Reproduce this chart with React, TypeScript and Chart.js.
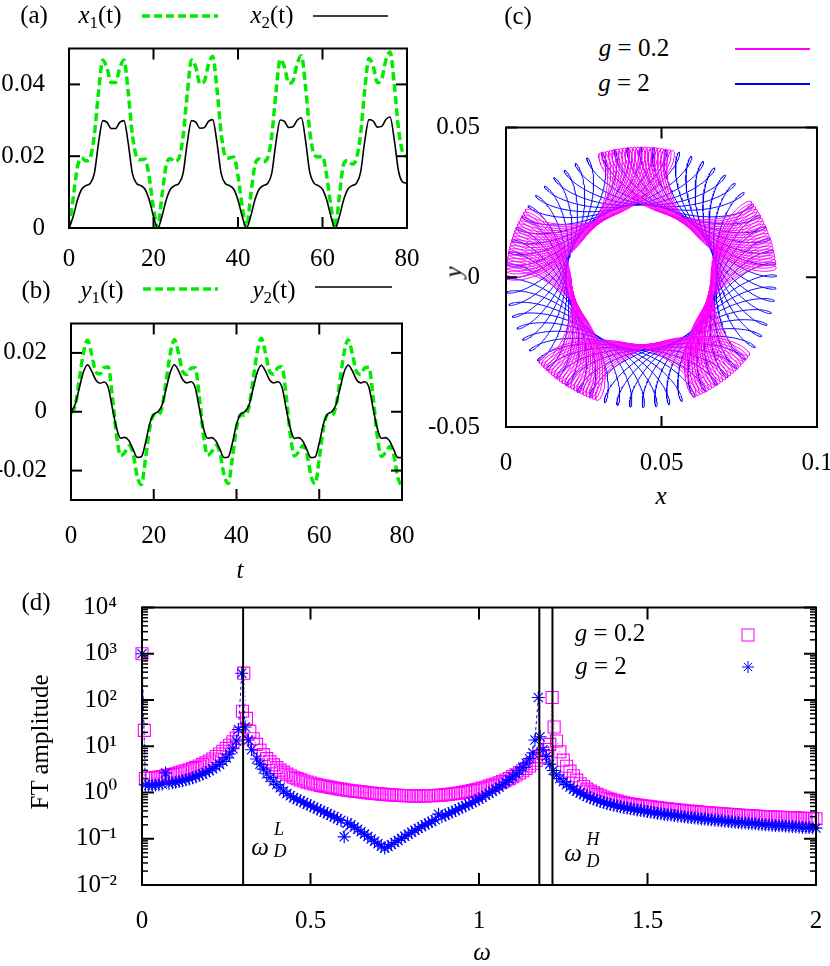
import React, { useEffect, useRef } from 'react';
import { Chart, registerables } from 'chart.js';

Chart.register(...registerables);

const SERIF = '"Liberation Serif", Tinos, "Times New Roman", Times, "Nimbus Roman", FreeSerif, "DejaVu Serif", serif';

// ---------------- Panels (a) and (b): time series ----------------
const timeSamples = [0, 1, 2, 3, 4, 5, 6, 7, 8, 9, 10, 11, 12, 13, 14, 15, 16, 17, 18, 19, 20,
  21, 22, 23, 24, 25, 26, 27, 28, 29, 30, 31, 32, 33, 34, 35, 36, 37, 38, 39, 40, 41,
  42, 43, 44, 45, 46, 47, 48, 49, 50, 51, 52, 53, 54, 55, 56, 57, 58, 59, 60, 61, 62,
  63, 64, 65, 66, 67, 68, 69, 70, 71, 72, 73, 74, 75, 76, 77, 78, 79, 80];

const x1Series = [
  0, 0.0085, 0.017, 0.0195, 0.0187, 0.0195, 0.026, 0.038, 0.0468, 0.0445, 0.0405, 0.0405, 0.0445, 0.0468, 0.038, 0.026, 0.0198, 0.019, 0.0192, 0.014, 0.0055,
  0, 0.009, 0.0175, 0.0193, 0.0185, 0.0194, 0.0255, 0.0375, 0.0468, 0.0448, 0.0402, 0.0408, 0.0455, 0.0478, 0.039, 0.0265, 0.02, 0.0195, 0.0198, 0.0145, 0.006,
  0, 0.009, 0.0175, 0.0192, 0.0185, 0.0195, 0.0258, 0.038, 0.047, 0.0448, 0.0403, 0.041, 0.0458, 0.048, 0.0392, 0.0268, 0.0205, 0.0198, 0.02, 0.0145, 0.006,
  0, 0.009, 0.0178, 0.0188, 0.0178, 0.0192, 0.026, 0.0385, 0.0472, 0.045, 0.0405, 0.0415, 0.0468, 0.049, 0.04, 0.0275, 0.021, 0.0198];

const x2Series = [
  0, 0.0032, 0.0078, 0.0108, 0.0118, 0.0124, 0.0152, 0.0238, 0.0299, 0.0294, 0.0277, 0.0277, 0.0294, 0.0299, 0.0238, 0.0152, 0.0124, 0.0118, 0.0108, 0.0078, 0.0032,
  0, 0.0032, 0.0078, 0.0108, 0.0118, 0.0124, 0.0152, 0.0238, 0.0299, 0.0295, 0.0278, 0.0279, 0.0297, 0.0302, 0.024, 0.0153, 0.0124, 0.0118, 0.0108, 0.0078, 0.0032,
  0, 0.0032, 0.0078, 0.0108, 0.0118, 0.0124, 0.0153, 0.024, 0.0301, 0.0297, 0.028, 0.0282, 0.03, 0.0307, 0.0243, 0.0154, 0.0125, 0.0118, 0.0108, 0.0078, 0.0032,
  0, 0.0032, 0.0078, 0.0108, 0.0118, 0.0124, 0.0154, 0.0242, 0.0302, 0.0298, 0.0281, 0.0283, 0.0302, 0.0309, 0.0245, 0.0158, 0.0128, 0.0125];

const y1Series = [
  -0.0005, 0.002, 0.011, 0.02, 0.0243, 0.0195, 0.0135, 0.0128, 0.015, 0.0152, 0.005, -0.008, -0.015, -0.0138, -0.0116, -0.0142, -0.022, -0.0248, -0.016, -0.0058, -0.001,
  -0.0012, 0.0015, 0.0105, 0.0198, 0.0245, 0.0198, 0.0137, 0.0127, 0.0148, 0.015, 0.0052, -0.0078, -0.0148, -0.0136, -0.0115, -0.014, -0.0215, -0.0244, -0.0158, -0.0056, -0.001,
  -0.0012, 0.0016, 0.0108, 0.0202, 0.025, 0.02, 0.0138, 0.0128, 0.015, 0.0153, 0.0055, -0.0078, -0.015, -0.0137, -0.0116, -0.0142, -0.0218, -0.0245, -0.016, -0.0057, -0.001,
  -0.0012, 0.0016, 0.0106, 0.02, 0.0245, 0.0197, 0.0136, 0.0127, 0.0149, 0.0151, 0.0052, -0.008, -0.0152, -0.0139, -0.0118, -0.0146, -0.0225, -0.0255];

const y2Series = [
  0, 0.0025, 0.008, 0.0135, 0.016, 0.0138, 0.0108, 0.0097, 0.0101, 0.0082, 0.0012, -0.0055, -0.009, -0.0087, -0.0098, -0.0128, -0.0155, -0.0153, -0.0106, -0.0042, -0.0008,
  0, 0.0022, 0.0078, 0.0134, 0.016, 0.0139, 0.0109, 0.0098, 0.0102, 0.0083, 0.0013, -0.0055, -0.009, -0.0088, -0.0099, -0.0128, -0.0156, -0.0154, -0.0107, -0.0043, -0.0008,
  0, 0.0022, 0.0078, 0.0133, 0.0158, 0.0138, 0.0108, 0.0098, 0.0102, 0.0083, 0.0012, -0.0056, -0.0091, -0.0088, -0.0099, -0.0129, -0.0156, -0.0154, -0.0106, -0.0042, -0.0008,
  0, 0.0022, 0.0078, 0.0134, 0.0159, 0.0139, 0.0109, 0.0098, 0.0102, 0.0083, 0.0013, -0.0055, -0.009, -0.0088, -0.0099, -0.0129, -0.0156, -0.0155];

const timeTicks = [0, 20, 40, 60, 80];
const timeTickLabels = ['0', '20', '40', '60', '80'];
const xPosTicks = [0, 0.02, 0.04];
const xPosTickLabels = ['0', '0.02', '0.04'];
const yPosTicks = [-0.02, 0, 0.02];
const yPosTickLabels = ['-0.02', '0', '0.02'];

// ---------------- Panel (c): orbit in the (x, y) plane ----------------
// Rebuilt from values: ring centre, slow / fast circle radii
// (outer edge ~0.0435, hole edge ~0.023), and the two drive frequencies (panel d).
// index 0: g = 0.2 (magenta), index 1: g = 2 (blue)
const orbitCentre = [0.0435, 0];
const orbitSlowRadius = [0.033, 0.0338];
const orbitFastRadius = [0.0105, 0.0097];
const orbitSlowFreq = [0.302, 0.296];
const orbitFastFreq = [1.2018, 1.1616];
const orbitDuration = [450, 276];
const orbitStep = 0.04;
const orbitXTicks = [0, 0.05, 0.1];
const orbitXTickLabels = ['0', '0.05', '0.1'];
const orbitYTicks = [-0.05, 0, 0.05];
const orbitYTickLabels = ['-0.05', '0', '0.05'];

// ---------------- Panel (d): FT amplitude ----------------
const spectrumWeak: [number, number][] = [
  [0, 1000], [0.007, 22], [0.01, 2.0], [0.02, 2.05], [0.03, 2.08], [0.04, 2.1], [0.05, 2.15], [0.06, 2.2], [0.07, 2.28], [0.08, 2.35], [0.09, 2.45],
  [0.10, 2.55], [0.11, 2.65], [0.12, 2.8], [0.13, 2.95], [0.14, 3.1], [0.15, 3.3], [0.16, 3.5], [0.17, 3.75], [0.18, 4.05], [0.19, 4.4],
  [0.20, 4.8], [0.21, 5.3], [0.22, 6.0], [0.23, 6.8], [0.24, 7.8], [0.25, 9.0], [0.26, 10.5], [0.27, 12.5], [0.28, 15], [0.29, 19],
  [0.298, 57], [0.302, 380], [0.31, 40], [0.32, 21], [0.33, 14.5], [0.34, 11], [0.35, 8.2], [0.36, 6.6], [0.37, 5.4], [0.38, 4.6], [0.39, 3.95],
  [0.40, 3.45], [0.41, 3.05], [0.42, 2.75], [0.43, 2.5], [0.44, 2.3], [0.45, 2.13], [0.46, 1.99], [0.47, 1.87], [0.48, 1.77], [0.49, 1.68],
  [0.50, 1.6], [0.51, 1.53], [0.52, 1.47], [0.53, 1.42], [0.54, 1.37], [0.55, 1.33], [0.56, 1.29], [0.57, 1.25], [0.58, 1.21], [0.59, 1.18],
  [0.60, 1.15], [0.61, 1.12], [0.62, 1.09], [0.63, 1.07], [0.64, 1.05], [0.65, 1.03], [0.66, 1.01], [0.67, 0.99], [0.68, 0.97], [0.69, 0.95],
  [0.70, 0.94], [0.71, 0.92], [0.72, 0.91], [0.73, 0.9], [0.74, 0.89], [0.75, 0.88], [0.76, 0.87], [0.77, 0.86], [0.78, 0.85], [0.79, 0.85],
  [0.80, 0.84], [0.81, 0.84], [0.82, 0.84], [0.83, 0.84], [0.84, 0.84], [0.85, 0.85], [0.86, 0.85], [0.87, 0.86], [0.88, 0.87], [0.89, 0.88],
  [0.90, 0.9], [0.91, 0.91], [0.92, 0.93], [0.93, 0.95], [0.94, 0.97], [0.95, 1.0], [0.96, 1.03], [0.97, 1.06], [0.98, 1.1], [0.99, 1.14],
  [1.00, 1.19], [1.01, 1.24], [1.02, 1.3], [1.03, 1.37], [1.04, 1.44], [1.05, 1.52], [1.06, 1.62], [1.07, 1.73], [1.08, 1.86], [1.09, 2.0],
  [1.10, 2.2], [1.11, 2.4], [1.12, 2.65], [1.13, 2.95], [1.14, 3.3], [1.15, 3.75], [1.16, 4.3], [1.17, 5.0], [1.18, 5.9], [1.19, 7.0],
  [1.20, 8.5], [1.21, 11], [1.217, 113], [1.223, 26], [1.23, 13], [1.24, 7.6], [1.25, 5.0], [1.26, 3.7], [1.27, 2.9], [1.28, 2.3], [1.29, 1.85],
  [1.30, 1.55], [1.31, 1.35], [1.32, 1.18], [1.33, 1.07], [1.34, 0.98], [1.35, 0.91], [1.36, 0.85], [1.37, 0.8], [1.38, 0.75], [1.39, 0.71],
  [1.40, 0.68], [1.41, 0.65], [1.42, 0.62], [1.43, 0.6], [1.44, 0.58], [1.45, 0.565], [1.46, 0.55], [1.47, 0.535], [1.48, 0.52], [1.49, 0.51],
  [1.50, 0.5], [1.51, 0.49], [1.52, 0.48], [1.53, 0.47], [1.54, 0.46], [1.55, 0.45], [1.56, 0.442], [1.57, 0.434], [1.58, 0.426], [1.59, 0.418],
  [1.60, 0.41], [1.61, 0.404], [1.62, 0.398], [1.63, 0.392], [1.64, 0.386], [1.65, 0.38], [1.66, 0.375], [1.67, 0.37], [1.68, 0.365], [1.69, 0.36],
  [1.70, 0.355], [1.71, 0.351], [1.72, 0.347], [1.73, 0.343], [1.74, 0.339], [1.75, 0.335], [1.76, 0.331], [1.77, 0.327], [1.78, 0.323], [1.79, 0.319],
  [1.80, 0.315], [1.81, 0.312], [1.82, 0.309], [1.83, 0.306], [1.84, 0.303], [1.85, 0.3], [1.86, 0.298], [1.87, 0.296], [1.88, 0.294], [1.89, 0.292],
  [1.90, 0.29], [1.91, 0.288], [1.92, 0.286], [1.93, 0.284], [1.94, 0.282], [1.95, 0.28], [1.96, 0.278], [1.97, 0.276], [1.98, 0.274], [1.99, 0.272], [2.00, 0.27],
];

const spectrumStrong: [number, number][] = [
  [0, 1000], [0.01, 1.45], [0.02, 1.43], [0.03, 1.43], [0.04, 1.45], [0.05, 1.48], [0.06, 1.52], [0.07, 2.65], [0.08, 1.58], [0.09, 1.62],
  [0.10, 1.67], [0.11, 1.73], [0.12, 1.8], [0.13, 1.88], [0.14, 1.97], [0.15, 2.08], [0.16, 2.2], [0.17, 2.35], [0.18, 2.52], [0.19, 2.72],
  [0.20, 2.95], [0.21, 3.25], [0.22, 3.6], [0.23, 4.05], [0.24, 4.7], [0.25, 5.6], [0.26, 6.8], [0.27, 8.8], [0.28, 13], [0.286, 23],
  [0.296, 380], [0.306, 26], [0.316, 13.6], [0.325, 8.4], [0.34, 5.3], [0.35, 4.1], [0.36, 3.2], [0.37, 2.55], [0.38, 2.1], [0.39, 1.75],
  [0.40, 1.48], [0.41, 1.26], [0.42, 1.08], [0.43, 0.95], [0.44, 0.85], [0.45, 0.77], [0.46, 0.71], [0.47, 0.66], [0.48, 0.61], [0.49, 0.56],
  [0.50, 0.52], [0.51, 0.48], [0.52, 0.44], [0.53, 0.41], [0.54, 0.38], [0.55, 0.35], [0.56, 0.32], [0.57, 0.3], [0.58, 0.27], [0.59, 0.25],
  [0.60, 0.11], [0.61, 0.22], [0.62, 0.2], [0.63, 0.178], [0.64, 0.16], [0.65, 0.142], [0.66, 0.126], [0.67, 0.112], [0.68, 0.099], [0.69, 0.088],
  [0.70, 0.078], [0.71, 0.069], [0.72, 0.063], [0.73, 0.068], [0.74, 0.075], [0.75, 0.083], [0.76, 0.092], [0.77, 0.102], [0.78, 0.113], [0.79, 0.125],
  [0.80, 0.138], [0.81, 0.152], [0.82, 0.167], [0.83, 0.183], [0.84, 0.2], [0.85, 0.218], [0.86, 0.237], [0.87, 0.257], [0.88, 0.34], [0.89, 0.3],
  [0.90, 0.325], [0.91, 0.35], [0.92, 0.38], [0.93, 0.41], [0.94, 0.445], [0.95, 0.48], [0.96, 0.52], [0.97, 0.56], [0.98, 0.61], [0.99, 0.66],
  [1.00, 0.72], [1.01, 0.79], [1.02, 0.87], [1.03, 0.96], [1.04, 1.06], [1.05, 1.18], [1.06, 1.32], [1.07, 1.48], [1.08, 1.67], [1.09, 1.9],
  [1.10, 2.18], [1.11, 2.5], [1.12, 2.95], [1.13, 3.5], [1.14, 4.3], [1.15, 5.4], [1.16, 7.2], [1.166, 13.6], [1.176, 113], [1.181, 16],
  [1.19, 8.4], [1.20, 6.0], [1.21, 4.1], [1.22, 3.0], [1.23, 2.4], [1.24, 2.0], [1.25, 1.7], [1.26, 1.48], [1.27, 1.32], [1.28, 1.18], [1.29, 1.07],
  [1.30, 0.98], [1.31, 0.9], [1.32, 0.83], [1.33, 0.77], [1.34, 0.72], [1.35, 0.68], [1.36, 0.64], [1.37, 0.61], [1.38, 0.58], [1.39, 0.55],
  [1.40, 0.53], [1.41, 0.51], [1.42, 0.49], [1.43, 0.475], [1.44, 0.46], [1.45, 0.445], [1.46, 0.432], [1.47, 0.42], [1.48, 0.408], [1.49, 0.397],
  [1.50, 0.386], [1.51, 0.376], [1.52, 0.366], [1.53, 0.357], [1.54, 0.348], [1.55, 0.34], [1.56, 0.332], [1.57, 0.325], [1.58, 0.318], [1.59, 0.311],
  [1.60, 0.305], [1.61, 0.299], [1.62, 0.293], [1.63, 0.287], [1.64, 0.281], [1.65, 0.276], [1.66, 0.271], [1.67, 0.266], [1.68, 0.261], [1.69, 0.256],
  [1.70, 0.252], [1.71, 0.248], [1.72, 0.244], [1.73, 0.24], [1.74, 0.236], [1.75, 0.232], [1.76, 0.228], [1.77, 0.225], [1.78, 0.222], [1.79, 0.219],
  [1.80, 0.216], [1.81, 0.213], [1.82, 0.21], [1.83, 0.207], [1.84, 0.204], [1.85, 0.201], [1.86, 0.198], [1.87, 0.196], [1.88, 0.194], [1.89, 0.192],
  [1.90, 0.19], [1.91, 0.188], [1.92, 0.186], [1.93, 0.184], [1.94, 0.182], [1.95, 0.18], [1.96, 0.178], [1.97, 0.176], [1.98, 0.174], [1.99, 0.172], [2.00, 0.17],
];

const driveFrequencies = [0.3, 1.179, 1.218];
const freqTicks = [0, 0.5, 1, 1.5, 2];
const freqTickLabels = ['0', '0.5', '1', '1.5', '2'];
const ampTicks = [0.01, 0.1, 1, 10, 100, 1000, 10000];
const ampTickLabels = ['10⁻²', '10⁻¹', '10⁰', '10¹', '10²', '10³', '10⁴'];
const ampMinorFactors = [2, 3, 4, 5, 6, 7, 8, 9];

// ---------------- colours ----------------
const GREEN = 'rgb(0,235,0)';
const MAGENTA = '#ff00ff';
const BLUE = '#0000ff';

// ---------------- helpers ----------------
type Box = { left: number; top: number; width: number; height: number };
type Plot = { left: number; top: number; right: number; bottom: number };

function frameLayout(canvas: Box, plot: Plot) {
  return {
    padding: {
      left: 0,
      top: plot.top - canvas.top,
      right: canvas.left + canvas.width - plot.right,
      bottom: 0,
    },
    yWidth: plot.left - canvas.left,
    xHeight: canvas.top + canvas.height - plot.bottom,
  };
}

function makeFramePlugin(cfg: { xTicks: number[]; yTicks: number[]; yMinor?: number[]; major: number; minor?: number }) {
  return {
    id: 'frameTicks',
    afterDatasetsDraw(chart: any) {
      const { ctx, chartArea: a, scales } = chart;
      ctx.save();
      ctx.strokeStyle = '#000';
      ctx.lineWidth = 2;
      const seg = (x1: number, y1: number, x2: number, y2: number) => {
        ctx.beginPath();
        ctx.moveTo(x1, y1);
        ctx.lineTo(x2, y2);
        ctx.stroke();
      };
      for (const v of cfg.xTicks) {
        const p = scales.x.getPixelForValue(v);
        seg(p, a.bottom, p, a.bottom - cfg.major);
        seg(p, a.top, p, a.top + cfg.major);
      }
      for (const v of cfg.yTicks) {
        const p = scales.y.getPixelForValue(v);
        seg(a.left, p, a.left + cfg.major, p);
        seg(a.right, p, a.right - cfg.major, p);
      }
      ctx.lineWidth = 1.5;
      for (const v of cfg.yMinor || []) {
        const p = scales.y.getPixelForValue(v);
        seg(a.left, p, a.left + (cfg.minor || 6), p);
        seg(a.right, p, a.right - (cfg.minor || 6), p);
      }
      ctx.lineWidth = 2;
      ctx.strokeRect(a.left, a.top, a.right - a.left, a.bottom - a.top);
      ctx.restore();
    },
  };
}

function axis(opts: {
  type?: string; min: number; max: number; ticks: number[]; labels: string[];
  size: number; horizontal: boolean; padding: number;
}) {
  return {
    type: opts.type || 'linear',
    min: opts.min,
    max: opts.max,
    afterBuildTicks: (s: any) => { s.ticks = opts.ticks.map((v) => ({ value: v })); },
    afterFit: (s: any) => { if (opts.horizontal) s.height = opts.size; else s.width = opts.size; },
    grid: { display: false },
    border: { display: false },
    ticks: {
      autoSkip: false,
      maxRotation: 0,
      minRotation: 0,
      padding: opts.padding,
      color: '#000',
      font: { family: SERIF, size: 25, lineHeight: 1 },
      callback: (_v: any, i: number) => opts.labels[i],
    },
  };
}

function baseOptions(padding: any, scales: any) {
  return {
    animation: false,
    responsive: false,
    maintainAspectRatio: false,
    devicePixelRatio: 1,
    events: [],
    layout: { padding },
    plugins: { legend: { display: false }, tooltip: { enabled: false }, title: { display: false } },
    scales,
  };
}

function ChartCanvas({ box, build }: { box: Box; build: () => any }) {
  const ref = useRef<HTMLCanvasElement>(null);
  useEffect(() => {
    const chart = new Chart(ref.current as HTMLCanvasElement, build());
    return () => chart.destroy();
  }, []);
  return (
    <canvas
      ref={ref}
      width={box.width}
      height={box.height}
      style={{ position: 'absolute', left: box.left, top: box.top, width: box.width, height: box.height }}
    />
  );
}

function pts(xs: number[], ys: number[]) {
  return xs.map((x, i) => ({ x, y: ys[i] }));
}

// ---------------- chart builders ----------------
const boxA: Box = { left: 0, top: 20, width: 430, height: 250 };
const plotA: Plot = { left: 69, top: 41, right: 407, bottom: 228 };
function buildA() {
  const L = frameLayout(boxA, plotA);
  return {
    type: 'scatter',
    data: {
      datasets: [
        { data: pts(timeSamples, x2Series), showLine: true, borderColor: '#000', borderWidth: 1.6, pointRadius: 0, cubicInterpolationMode: 'monotone', order: 0 },
        { data: pts(timeSamples, x1Series), showLine: true, borderColor: GREEN, borderWidth: 3.5, borderDash: [8, 4], pointRadius: 0, cubicInterpolationMode: 'monotone', order: 1 },
      ],
    },
    options: baseOptions(L.padding, {
      x: axis({ min: 0, max: 80, ticks: timeTicks, labels: timeTickLabels, size: L.xHeight, horizontal: true, padding: 10.5 }),
      y: axis({ min: 0, max: 0.05, ticks: xPosTicks, labels: xPosTickLabels, size: L.yWidth, horizontal: false, padding: 16 }),
    }),
    plugins: [makeFramePlugin({ xTicks: timeTicks, yTicks: xPosTicks, major: 11 })],
  };
}

const boxB: Box = { left: 0, top: 295, width: 430, height: 255 };
const plotB: Plot = { left: 71, top: 315, right: 409, bottom: 500 };
function buildB() {
  const L = frameLayout(boxB, plotB);
  return {
    type: 'scatter',
    data: {
      datasets: [
        { data: pts(timeSamples, y2Series), showLine: true, borderColor: '#000', borderWidth: 1.6, pointRadius: 0, cubicInterpolationMode: 'monotone', order: 0 },
        { data: pts(timeSamples, y1Series), showLine: true, borderColor: GREEN, borderWidth: 3.5, borderDash: [8, 4], pointRadius: 0, cubicInterpolationMode: 'monotone', order: 1 },
      ],
    },
    options: baseOptions(L.padding, {
      x: axis({ min: 0, max: 80, ticks: timeTicks, labels: timeTickLabels, size: L.xHeight, horizontal: true, padding: 15.5 }),
      y: axis({ min: -0.03, max: 0.03, ticks: yPosTicks, labels: yPosTickLabels, size: L.yWidth, horizontal: false, padding: 16 }),
    }),
    plugins: [makeFramePlugin({ xTicks: timeTicks, yTicks: yPosTicks, major: 11 })],
  };
}

function orbitPoints(k: number) {
  const out: { x: number; y: number }[] = [];
  const A = orbitSlowRadius[k];
  const B = orbitFastRadius[k];
  const wl = orbitSlowFreq[k];
  const wh = orbitFastFreq[k];
  const n = Math.round(orbitDuration[k] / orbitStep);
  for (let i = 0; i <= n; i++) {
    const t = i * orbitStep;
    out.push({
      x: orbitCentre[0] - A * Math.cos(wl * t) - B * Math.cos(wh * t),
      y: orbitCentre[1] + A * Math.sin(wl * t) - B * Math.sin(wh * t),
    });
  }
  return out;
}

const boxC: Box = { left: 420, top: 97, width: 430, height: 383 };
const plotC: Plot = { left: 506, top: 117, right: 817, bottom: 427 };
function buildC() {
  const L = frameLayout(boxC, plotC);
  return {
    type: 'scatter',
    data: {
      datasets: [
        { data: orbitPoints(0), showLine: true, borderColor: MAGENTA, borderWidth: 1, pointRadius: 0, order: 0 },
        { data: orbitPoints(1), showLine: true, borderColor: BLUE, borderWidth: 1, pointRadius: 0, order: 1 },
      ],
    },
    options: baseOptions(L.padding, {
      x: axis({ min: 0, max: 0.1, ticks: orbitXTicks, labels: orbitXTickLabels, size: L.xHeight, horizontal: true, padding: 15.5 }),
      y: axis({ min: -0.05, max: 0.05, ticks: orbitYTicks, labels: orbitYTickLabels, size: L.yWidth, horizontal: false, padding: 18 }),
    }),
    plugins: [makeFramePlugin({ xTicks: orbitXTicks, yTicks: orbitYTicks, major: 11 })],
  };
}

const boxD: Box = { left: 0, top: 578, width: 840, height: 388 };
const plotD: Plot = { left: 142, top: 598, right: 816, bottom: 885 };
function buildD() {
  const L = frameLayout(boxD, plotD);
  const minor: number[] = [];
  for (let i = 0; i < ampTicks.length - 1; i++) for (const f of ampMinorFactors) minor.push(ampTicks[i] * f);
  const vlines = driveFrequencies.map((w) => ({
    data: [{ x: w, y: ampTicks[0] }, { x: w, y: ampTicks[ampTicks.length - 1] }],
    showLine: true, borderColor: '#000', borderWidth: 2, pointRadius: 0, order: -1,
  }));
  return {
    type: 'scatter',
    data: {
      datasets: [
        ...vlines,
        {
          data: spectrumStrong.map(([x, y]) => ({ x, y })), showLine: true, borderColor: BLUE, borderWidth: 1, borderDash: [3, 3],
          pointStyle: 'star', pointRadius: 6.5, pointBorderColor: BLUE, pointBackgroundColor: 'rgba(0,0,0,0)', pointBorderWidth: 1.1, clip: false, order: 0,
        },
        {
          data: spectrumWeak.map(([x, y]) => ({ x, y })), showLine: true, borderColor: MAGENTA, borderWidth: 1, borderDash: [1, 3],
          pointStyle: 'rect', pointRadius: 8.5, pointBorderColor: MAGENTA, pointBackgroundColor: 'rgba(0,0,0,0)', pointBorderWidth: 1.1, clip: false, order: 1,
        },
      ],
    },
    options: baseOptions(L.padding, {
      x: axis({ min: 0, max: 2, ticks: freqTicks, labels: freqTickLabels, size: L.xHeight, horizontal: true, padding: 15.5 }),
      y: axis({ type: 'logarithmic', min: 0.01, max: 10000, ticks: ampTicks, labels: ampTickLabels, size: L.yWidth, horizontal: false, padding: 17 }),
    }),
    plugins: [makeFramePlugin({ xTicks: freqTicks, yTicks: ampTicks, yMinor: minor, major: 12, minor: 6 })],
  };
}

// ---------------- text overlays ----------------
function Txt({ x, y, size = 25, rotate = 0, children, italic = false }: any) {
  return (
    <div
      style={{
        position: 'absolute', left: x, top: y,
        transform: `translate(-50%, -50%)${rotate ? ` rotate(${rotate}deg)` : ''}`,
        fontFamily: SERIF, fontSize: size, lineHeight: 1, whiteSpace: 'nowrap', color: '#000',
        fontStyle: italic ? 'italic' : 'normal', zIndex: 2,
      }}
    >
      {children}
    </div>
  );
}

const Sub = ({ children }: any) => (
  <span style={{ fontSize: '0.68em', position: 'relative', top: '0.32em' }}>{children}</span>
);

function Seg({ x1, x2, y, color, width, dash }: any) {
  return (
    <svg style={{ position: 'absolute', left: 0, top: 0, zIndex: 2, overflow: 'visible' }} width={1} height={1}>
      <line x1={x1} y1={y} x2={x2} y2={y} stroke={color} strokeWidth={width} strokeDasharray={dash} />
    </svg>
  );
}

export default function App() {
  return (
    <div style={{ position: 'absolute', left: 0, top: 0, width: 830, height: 966, overflow: 'hidden', background: '#fff' }}>
      <ChartCanvas box={boxA} build={buildA} />
      <ChartCanvas box={boxB} build={buildB} />
      <ChartCanvas box={boxC} build={buildC} />
      <ChartCanvas box={boxD} build={buildD} />

      {/* panel (a) */}
      <Txt x={34} y={14}>(a)</Txt>
      <Txt x={100} y={14}><i>x</i><Sub>1</Sub>(t)</Txt>
      <Seg x1={142} x2={218} y={16} color={GREEN} width={3.5} dash="8 4" />
      <Txt x={272} y={14}><i>x</i><Sub>2</Sub>(t)</Txt>
      <Seg x1={313} x2={388} y={16} color="#000" width={1.6} />

      {/* panel (b) */}
      <Txt x={36} y={289}>(b)</Txt>
      <Txt x={102} y={289}><i>y</i><Sub>1</Sub>(t)</Txt>
      <Seg x1={143} x2={218} y={289} color={GREEN} width={3.5} dash="8 4" />
      <Txt x={274} y={289}><i>y</i><Sub>2</Sub>(t)</Txt>
      <Seg x1={315} x2={392} y={287} color="#000" width={1.6} />
      <Txt x={240} y={569} italic>t</Txt>

      {/* panel (c) */}
      <Txt x={518} y={15}>(c)</Txt>
      <Txt x={634} y={47}><i>g</i>&nbsp;=&nbsp;0.2</Txt>
      <Seg x1={735} x2={810} y={49} color={MAGENTA} width={2} />
      <Txt x={624} y={82}><i>g</i>&nbsp;=&nbsp;2</Txt>
      <Seg x1={735} x2={810} y={84} color={BLUE} width={2} />
      <Txt x={661} y={495} italic>x</Txt>
      <Txt x={453} y={272} rotate={-90} italic>y</Txt>

      {/* panel (d) */}
      <Txt x={36} y={601}>(d)</Txt>
      <Txt x={39} y={742} rotate={-90}>FT amplitude</Txt>
      <Txt x={610} y={632}><i>g</i>&nbsp;=&nbsp;0.2</Txt>
      <svg style={{ position: 'absolute', left: 0, top: 0, zIndex: 2, overflow: 'visible' }} width={1} height={1}>
        <rect x={742} y={629} width={12} height={12} fill="none" stroke={MAGENTA} strokeWidth={1} />
        <line x1={748} y1={661} x2={748} y2={673} stroke={BLUE} strokeWidth={1} />
        <line x1={742} y1={667} x2={754} y2={667} stroke={BLUE} strokeWidth={1} />
        <line x1={743.8} y1={662.8} x2={752.2} y2={671.2} stroke={BLUE} strokeWidth={1} />
        <line x1={743.8} y1={671.2} x2={752.2} y2={662.8} stroke={BLUE} strokeWidth={1} />
      </svg>
      <Txt x={601} y={665}><i>g</i>&nbsp;=&nbsp;2</Txt>
      <Txt x={482} y={951} italic>ω</Txt>
      <Txt x={260} y={846} italic>ω</Txt>
      <Txt x={279} y={829} size={18} italic>L</Txt>
      <Txt x={280} y={851} size={18} italic>D</Txt>
      <Txt x={573} y={852} italic>ω</Txt>
      <Txt x={593} y={839} size={18} italic>H</Txt>
      <Txt x={593} y={861} size={18} italic>D</Txt>
    </div>
  );
}
